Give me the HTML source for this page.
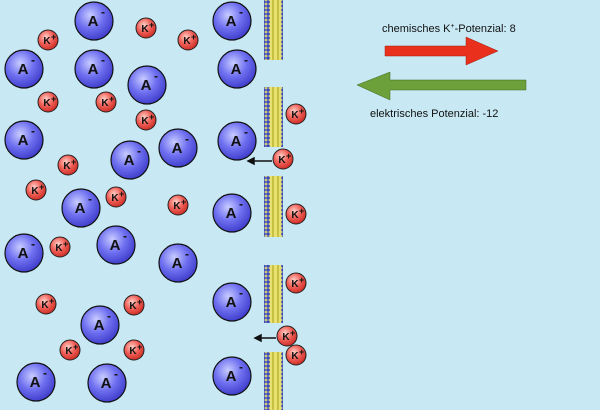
<!DOCTYPE html>
<html><head><style>body{margin:0}svg{display:block}</style></head><body>
<svg width="600" height="410" xmlns="http://www.w3.org/2000/svg" font-family="Liberation Sans, sans-serif">
<defs>
<radialGradient id="ga" cx="0.4" cy="0.35" r="0.7"><stop offset="0" stop-color="#c8ccff"/><stop offset="0.5" stop-color="#6f70f0"/><stop offset="1" stop-color="#3a38c8"/></radialGradient>
<radialGradient id="gk" cx="0.4" cy="0.35" r="0.7"><stop offset="0" stop-color="#ffd0c8"/><stop offset="0.5" stop-color="#f06058"/><stop offset="1" stop-color="#c82820"/></radialGradient>
<pattern id="mem" width="19" height="4" patternUnits="userSpaceOnUse">
<rect width="19" height="4" fill="#e8e070"/>
<circle cx="2" cy="2" r="1.8" fill="#3848c0"/><circle cx="17" cy="2" r="1.8" fill="#3848c0"/>
<rect x="6" y="0" width="2" height="4" fill="#c8c040"/><rect x="11" y="0" width="2" height="4" fill="#c8c040"/>
</pattern>
<g id="A"><circle r="19" fill="url(#ga)" stroke="#111" stroke-width="1.2"/><text x="-1" y="5" font-size="15" font-weight="bold" text-anchor="middle" fill="#111">A</text><text x="7" y="-5" font-size="12" font-weight="bold" fill="#111">-</text></g>
<g id="K"><circle r="10" fill="url(#gk)" stroke="#222" stroke-width="1"/><text x="-1" y="4" font-size="10" font-weight="bold" text-anchor="middle" fill="#111">K</text><text x="3" y="0" font-size="9" font-weight="bold" fill="#111">+</text></g>
</defs>
<rect width="600" height="410" fill="#c8e9f4"/>
<g fill="url(#mem)">
<rect x="264" y="0" width="19" height="60"/><rect x="264" y="87" width="19" height="60"/><rect x="264" y="176" width="19" height="61"/><rect x="264" y="265" width="19" height="58"/><rect x="264" y="352" width="19" height="58"/>
</g>
<g>
<use href="#A" x="94" y="21"/><use href="#A" x="24" y="69"/><use href="#A" x="94" y="69"/><use href="#A" x="147" y="85"/>
<use href="#A" x="24" y="140"/><use href="#A" x="178" y="148"/><use href="#A" x="130" y="160"/><use href="#A" x="237" y="141"/>
<use href="#A" x="232" y="21"/><use href="#A" x="237" y="69"/><use href="#A" x="81" y="208"/><use href="#A" x="232" y="213"/>
<use href="#A" x="24" y="253"/><use href="#A" x="116" y="245"/><use href="#A" x="178" y="263"/><use href="#A" x="100" y="325"/>
<use href="#A" x="232" y="302"/><use href="#A" x="36" y="382"/><use href="#A" x="107" y="383"/><use href="#A" x="232" y="376"/>
</g>
<g>
<use href="#K" x="48" y="40"/><use href="#K" x="146" y="28"/><use href="#K" x="188" y="40"/><use href="#K" x="48" y="102"/>
<use href="#K" x="106" y="102"/><use href="#K" x="146" y="120"/><use href="#K" x="68" y="165"/><use href="#K" x="36" y="190"/>
<use href="#K" x="116" y="197"/><use href="#K" x="178" y="205"/><use href="#K" x="60" y="247"/><use href="#K" x="46" y="304"/>
<use href="#K" x="134" y="305"/><use href="#K" x="70" y="350"/><use href="#K" x="134" y="350"/><use href="#K" x="296" y="114"/>
<use href="#K" x="283" y="159"/><use href="#K" x="296" y="214"/><use href="#K" x="296" y="283"/><use href="#K" x="287" y="336"/><use href="#K" x="296" y="355"/>
</g>
<g stroke="#111" stroke-width="1.5" fill="#111">
<line x1="272" y1="161" x2="252" y2="161"/><path d="M248 161 l6 -3 v6 z"/>
<line x1="276" y1="338" x2="259" y2="338"/><path d="M255 338 l6 -3 v6 z"/>
</g>
<path d="M385 46 H466 V37 L498 51 L466 65 V56 H385 Z" fill="#e8301c" stroke="#a02010" stroke-width="0.5"/>
<path d="M526 80 H390 V72 L357 85 L390 100 V90 H526 Z" fill="#6ca03a" stroke="#3f6820" stroke-width="0.5"/>
<text x="382" y="32" font-size="11" fill="#111">chemisches K<tspan font-size="7" dy="-4">+</tspan><tspan dy="4">-Potenzial: 8</tspan></text>
<text x="370" y="117" font-size="11" fill="#111">elektrisches Potenzial: -12</text>
</svg>
</body></html>
